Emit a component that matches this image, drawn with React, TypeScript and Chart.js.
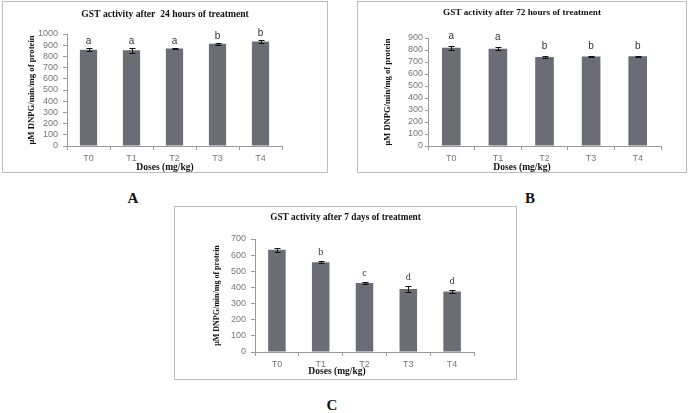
import React, { useEffect, useRef } from 'react';
import { Chart, registerables } from 'chart.js';

Chart.register(...registerables);

// ---------- data ----------
const categories = ['T0', 'T1', 'T2', 'T3', 'T4'];

const titleA = 'GST activity after  24 hours of treatment';
const valuesA = [860, 855, 870, 914, 933];
const errorsA = [15, 24, 7, 9, 10];
const lettersA = ['a', 'a', 'a', 'b', 'b'];

const titleB = 'GST activity after 72 hours of treatment';
const valuesB = [818, 811, 742, 745, 747];
const errorsB = [18, 15, 10, 5, 5];
const lettersB = ['a', 'a', 'b', 'b', 'b'];

const titleC = 'GST activity after 7 days of treatment';
const valuesC = [634, 556, 428, 390, 375];
const errorsC = [12, 7, 6, 17, 9];
const lettersC = ['', 'b', 'c', 'd', 'd'];

const yAxisTitle = 'μM DNPG/min/mg of protein';
const xAxisTitle = 'Doses (mg/kg)';

const yMaxA = 1000;
const yMaxB = 900;
const yMaxC = 700;
const yStep = 100;

// ---------- styling / layout ----------
const BAR = '#6b6d74';
const AXIS = '#9a9a9a';
const TICK = '#777777';
const SERIF = '"Liberation Serif", "DejaVu Serif", serif';
const SANS = '"Liberation Sans", Arial, sans-serif';

type Cfg = {
  box: { left: number; top: number; w: number; h: number };
  plot: { left: number; right: number; top: number; bottom: number };
  title: string;
  titleSize: number;
  titleY: number;
  yTitleX: number;
  yTitleSize: number;
  xTitleX: number;
  xTitleY: number;
  yMax: number;
  values: number[];
  errors: number[];
  letters: string[];
  letterGap: number;
  letterFont: string;
  yTickPad: number;
  yTickLen: number;
};

const panels: Cfg[] = [
  {
    box: { left: 2, top: 1, w: 326, h: 172 },
    plot: { left: 65, right: 280, top: 33, bottom: 145 },
    title: titleA, titleSize: 9.6, titleY: 14, yTitleX: 30, yTitleSize: 8.7,
    xTitleX: 163, xTitleY: 167,
    yMax: yMaxA, values: valuesA, errors: errorsA, letters: lettersA,
    letterGap: 7, letterFont: SANS, yTickPad: 5, yTickLen: 4,
  },
  {
    box: { left: 357, top: 1, w: 330, h: 172 },
    plot: { left: 71, right: 304, top: 37, bottom: 145 },
    title: titleB, titleSize: 9.2, titleY: 12, yTitleX: 31, yTitleSize: 8.5,
    xTitleX: 165, xTitleY: 167,
    yMax: yMaxB, values: valuesB, errors: errorsB, letters: lettersB,
    letterGap: 10, letterFont: SANS, yTickPad: 2, yTickLen: 3,
  },
  {
    box: { left: 174, top: 206, w: 343, h: 174 },
    plot: { left: 81, right: 300, top: 33, bottom: 146 },
    title: titleC, titleSize: 9.3, titleY: 12, yTitleX: 43, yTitleSize: 8,
    xTitleX: 163, xTitleY: 166,
    yMax: yMaxC, values: valuesC, errors: errorsC, letters: lettersC,
    letterGap: 9, letterFont: SERIF, yTickPad: 5, yTickLen: 4,
  },
];

function Panel({ cfg }: { cfg: Cfg }) {
  const ref = useRef<HTMLCanvasElement | null>(null);
  useEffect(() => {
    if (!ref.current) return;
    const yTitleLH = cfg.yTitleSize * 1.2;

    const extras = {
      id: 'extras',
      afterDatasetsDraw(chart: any) {
        const ctx = chart.ctx as CanvasRenderingContext2D;
        const meta = chart.getDatasetMeta(0);
        const ys = chart.scales.y;
        ctx.save();
        ctx.strokeStyle = '#111';
        ctx.lineWidth = 1;
        meta.data.forEach((bar: any, i: number) => {
          const v = cfg.values[i];
          const e = cfg.errors[i];
          const x = Math.round(bar.x) + 0.5;
          const yt = Math.round(ys.getPixelForValue(v + e)) + 0.5;
          const yb = Math.round(ys.getPixelForValue(v - e)) + 0.5;
          ctx.beginPath();
          ctx.moveTo(x, yt); ctx.lineTo(x, yb);
          ctx.moveTo(x - 3, yt); ctx.lineTo(x + 3, yt);
          ctx.moveTo(x - 3, yb); ctx.lineTo(x + 3, yb);
          ctx.stroke();
          if (cfg.letters[i]) {
            ctx.font = `10px ${cfg.letterFont}`;
            ctx.fillStyle = '#333';
            ctx.textAlign = 'center';
            ctx.textBaseline = 'middle';
            ctx.fillText(cfg.letters[i], bar.x, yt - cfg.letterGap);
          }
        });
        ctx.fillStyle = '#111';
        ctx.textAlign = 'center';
        ctx.textBaseline = 'middle';
        ctx.font = `bold 9.5px ${SERIF}`;
        ctx.fillText(xAxisTitle, cfg.xTitleX, cfg.xTitleY);
        ctx.font = `bold ${cfg.titleSize}px ${SERIF}`;
        ctx.fillText(cfg.title, cfg.box.w / 2, cfg.titleY);
        ctx.restore();
      },
    };

    const chart = new Chart(ref.current, {
      type: 'bar',
      data: {
        labels: categories,
        datasets: [
          {
            data: cfg.values,
            backgroundColor: BAR,
            borderWidth: 0,
            barPercentage: 0.4,
            categoryPercentage: 1,
          },
        ],
      },
      options: {
        responsive: false,
        animation: false,
        devicePixelRatio: 1,
        layout: { padding: { left: 0, right: cfg.box.w - cfg.plot.right, top: cfg.plot.top, bottom: 0 } },
        plugins: {
          legend: { display: false },
          tooltip: { enabled: false },
          title: { display: false },
        },
        scales: {
          x: {
            afterFit: (s: any) => { s.height = cfg.box.h - cfg.plot.bottom; },
            grid: { display: true, drawOnChartArea: false, drawTicks: true, tickLength: 4, color: AXIS },
            border: { color: AXIS },
            ticks: { color: TICK, font: { family: SANS, size: 9 }, padding: 3 },
          },
          y: {
            min: 0,
            max: cfg.yMax,
            afterFit: (s: any) => { s.width = cfg.plot.left; },
            grid: { display: true, drawOnChartArea: false, drawTicks: true, tickLength: cfg.yTickLen, color: AXIS },
            border: { color: AXIS },
            ticks: {
              stepSize: yStep,
              autoSkip: false,
              color: TICK,
              font: { family: SANS, size: 9 },
              padding: cfg.yTickPad,
              callback: (v: any) => String(v),
            },
            title: {
              display: true,
              text: yAxisTitle,
              color: '#111',
              font: { family: SERIF, size: cfg.yTitleSize, weight: 'bold', lineHeight: 1.2 },
              padding: { top: cfg.yTitleX - yTitleLH / 2, bottom: 0 },
            },
          },
        },
      },
      plugins: [extras],
    } as any);
    return () => chart.destroy();
  }, [cfg]);

  return (
    <div
      style={{
        position: 'absolute',
        left: cfg.box.left,
        top: cfg.box.top,
        width: cfg.box.w,
        height: cfg.box.h,
        border: '1px solid #bdbdbd',
        boxSizing: 'border-box',
      }}
    >
      <canvas
        ref={ref}
        width={cfg.box.w}
        height={cfg.box.h}
        style={{ position: 'absolute', left: -1, top: -1, width: cfg.box.w, height: cfg.box.h }}
      />
    </div>
  );
}

const panelLabels = [
  { text: 'A', x: 133, y: 198 },
  { text: 'B', x: 530, y: 198 },
  { text: 'C', x: 332, y: 405 },
];

export default function App() {
  return (
    <div style={{ position: 'absolute', left: 0, top: 0, width: 691, height: 413, background: '#fff' }}>
      {panels.map((p, i) => (
        <Panel key={i} cfg={p} />
      ))}
      {panelLabels.map((l) => (
        <div
          key={l.text}
          style={{
            position: 'absolute',
            left: l.x,
            top: l.y,
            transform: 'translate(-50%, -50%)',
            fontFamily: SERIF,
            fontWeight: 'bold',
            fontSize: 15,
            lineHeight: '15px',
            color: '#111',
          }}
        >
          {l.text}
        </div>
      ))}
    </div>
  );
}
